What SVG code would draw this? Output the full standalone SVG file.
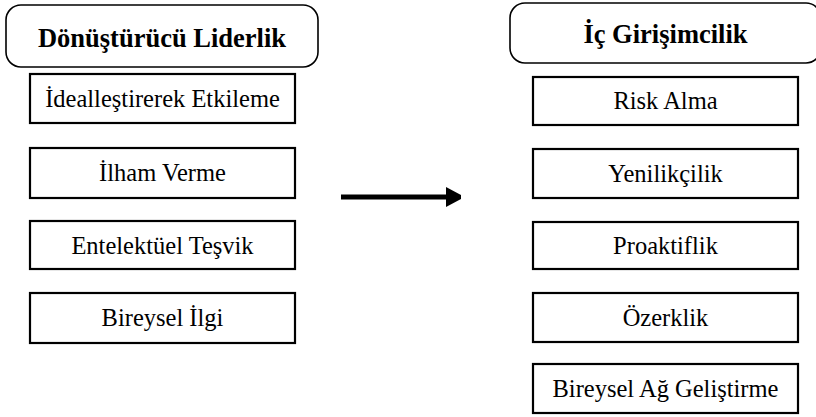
<svg xmlns="http://www.w3.org/2000/svg" width="816" height="417" viewBox="0 0 816 417">
<style>
.hdr{fill:#fff;stroke:#000;stroke-width:1.6}
.box{fill:#fff;stroke:#000;stroke-width:2.2}
.ht{font-family:'Liberation Serif',Tinos,'Times New Roman','DejaVu Serif',serif;font-weight:bold;font-size:26.5px;text-anchor:middle;fill:#000}
.bt{font-family:'Liberation Serif',Tinos,'Times New Roman','DejaVu Serif',serif;font-size:24.5px;text-anchor:middle;fill:#000}
</style>
<defs>
<marker id="ah" markerWidth="4" markerHeight="4" refX="0" refY="2" orient="auto" markerUnits="strokeWidth">
<path d="M0,0 L3,1.6 L3,2.4 L0,4 Z" fill="#000"/>
</marker>
</defs>
<g id="hdr-left"><rect class="hdr" x="6" y="5" width="312" height="62" rx="15"/><text class="ht" x="162" y="47">Dönüştürücü Liderlik</text></g>
<g id="n-l1"><rect class="box" x="30" y="74" width="265" height="49"/><text class="bt" x="162.5" y="107">İdealleştirerek Etkileme</text></g>
<g id="n-l2"><rect class="box" x="30" y="148" width="265" height="50"/><text class="bt" x="162.5" y="181">İlham Verme</text></g>
<g id="n-l3"><rect class="box" x="30" y="221" width="265" height="48"/><text class="bt" x="162.5" y="254">Entelektüel Teşvik</text></g>
<g id="n-l4"><rect class="box" x="30" y="293" width="265" height="50"/><text class="bt" x="162.5" y="326">Bireysel İlgi</text></g>
<g id="hdr-right"><rect class="hdr" x="510" y="3" width="311" height="60" rx="15"/><text class="ht" x="665.5" y="43">İç Girişimcilik</text></g>
<g id="n-r1"><rect class="box" x="533" y="77" width="265" height="48"/><text class="bt" x="665.5" y="109">Risk Alma</text></g>
<g id="n-r2"><rect class="box" x="533" y="149" width="265" height="49"/><text class="bt" x="665.5" y="182">Yenilikçilik</text></g>
<g id="n-r3"><rect class="box" x="533" y="222" width="265" height="47"/><text class="bt" x="665.5" y="254">Proaktiflik</text></g>
<g id="n-r4"><rect class="box" x="533" y="293" width="265" height="49"/><text class="bt" x="665.5" y="326">Özerklik</text></g>
<g id="n-r5"><rect class="box" x="533" y="364" width="265" height="49"/><text class="bt" x="665.5" y="397">Bireysel Ağ Geliştirme</text></g>
<g id="connectors">
<line x1="341" y1="197" x2="446" y2="197" stroke="#000" stroke-width="5" marker-end="url(#ah)"/>
</g>
</svg>
